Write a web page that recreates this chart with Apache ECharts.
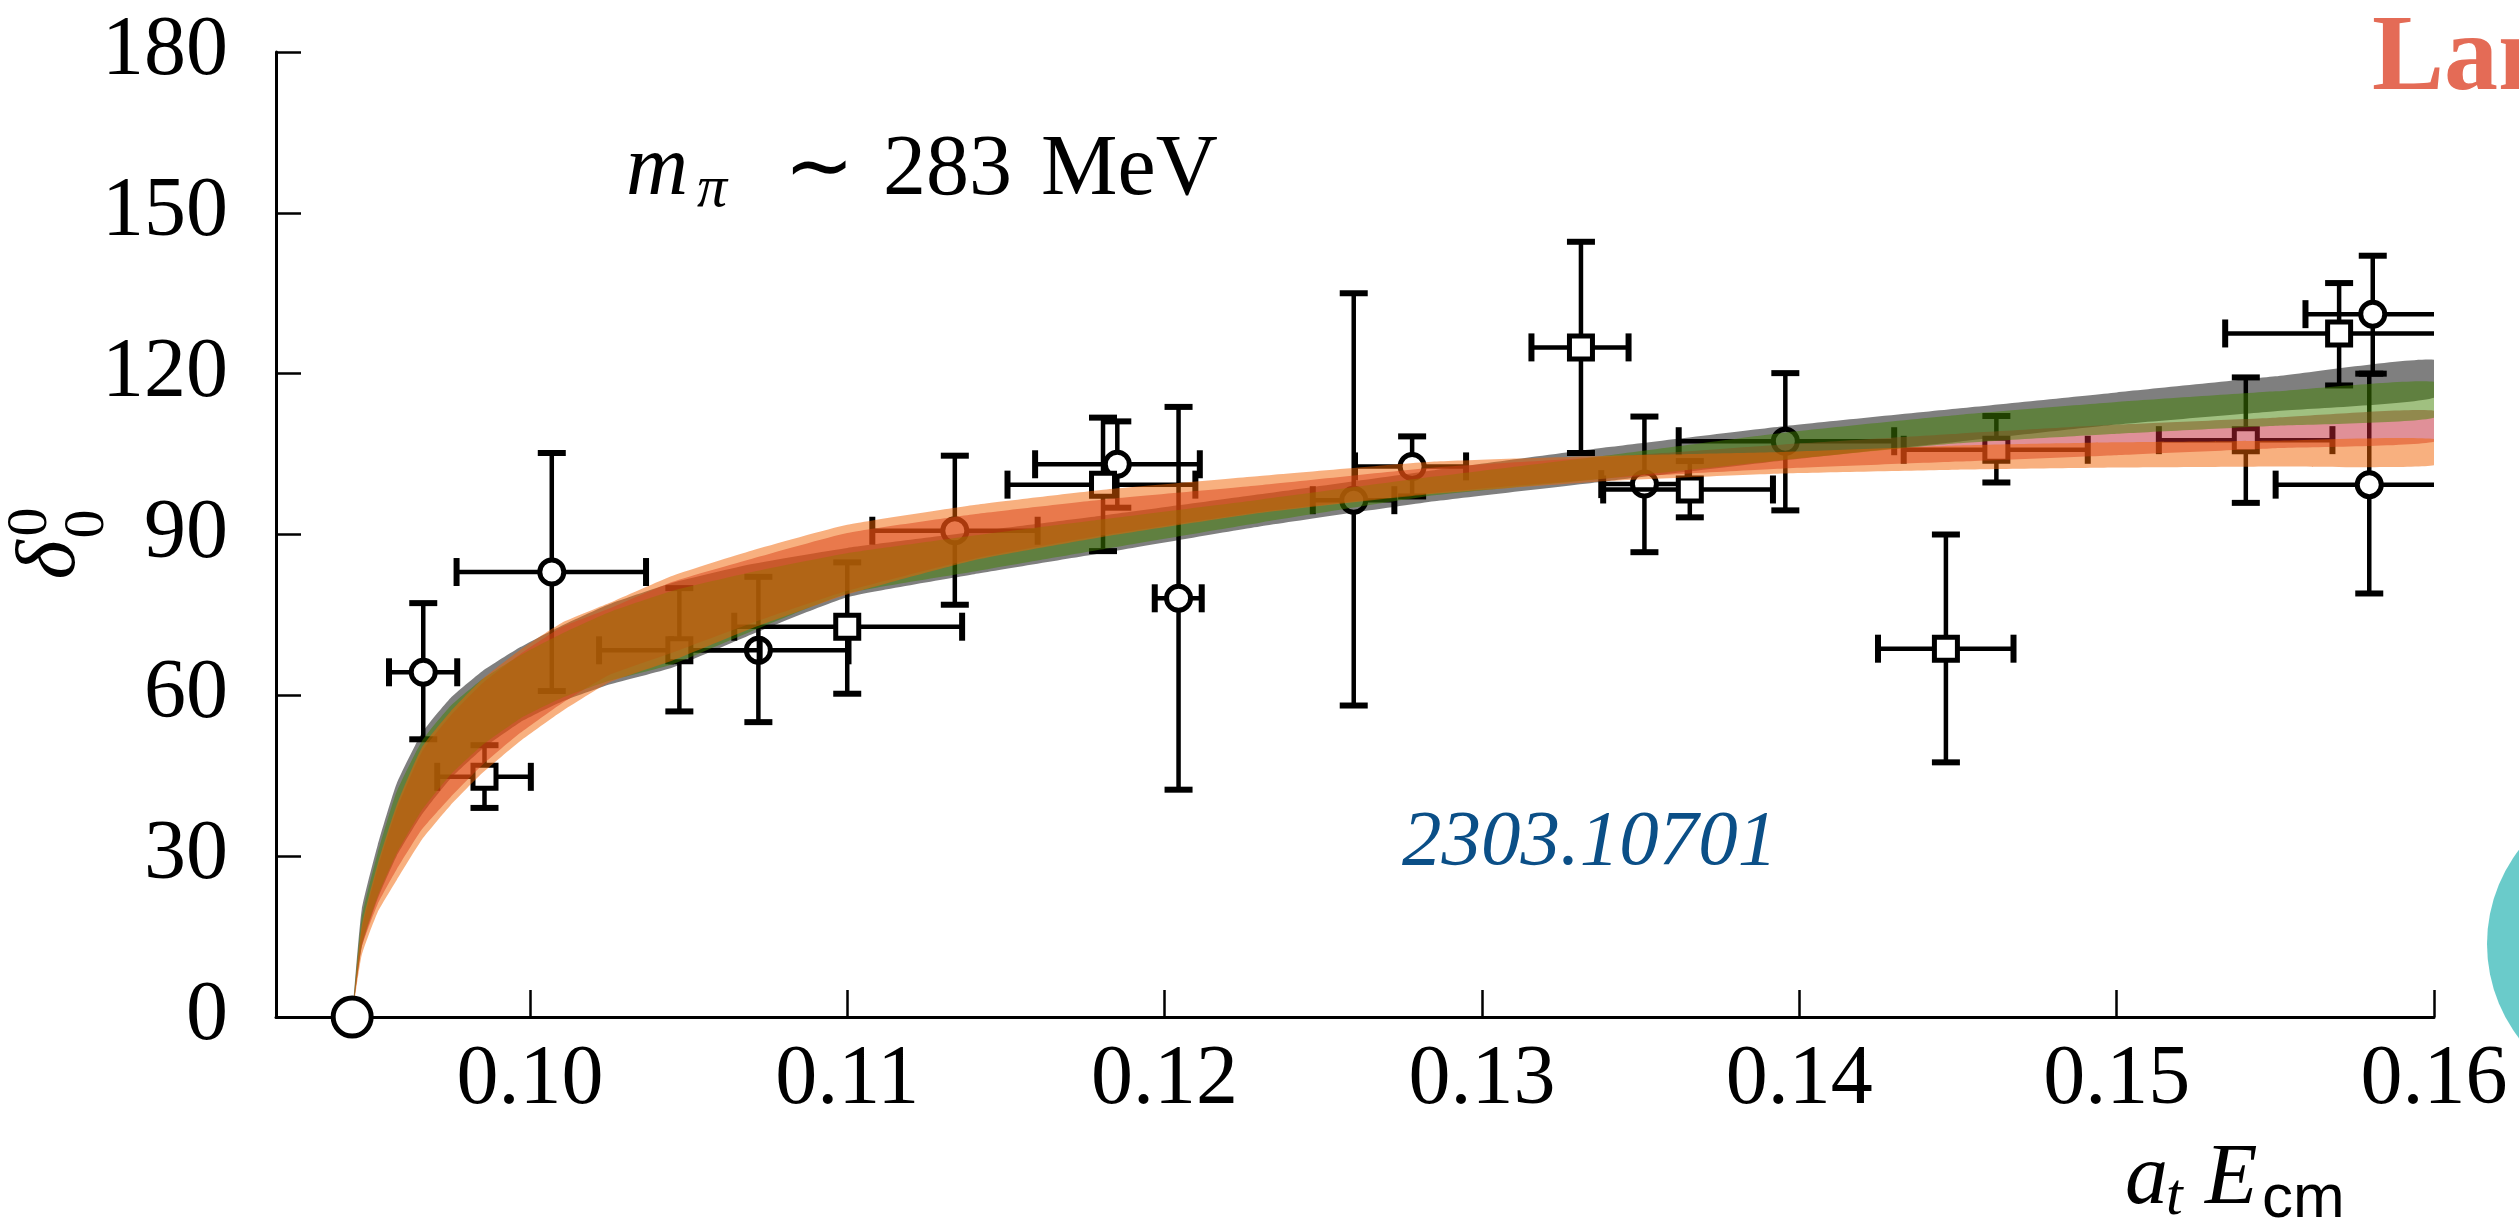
<!DOCTYPE html>
<html>
<head>
<meta charset="utf-8">
<script src="https://cdn.jsdelivr.net/npm/echarts@6/dist/echarts.min.js"></script>
<style>
html, body { margin: 0; padding: 0; background: #fff; }
#main { width: 2519px; height: 1231px; }
</style>
</head>
<body>
<div id="main"></div>
<script>
// 坐标轴刻度
var xTicks = [0.10, 0.11, 0.12, 0.13, 0.14, 0.15, 0.16];

// 拟合带 (lower / upper)
var bandX    = [0.0944, 0.0947, 0.0952, 0.0958, 0.0966, 0.0975, 0.0985, 0.0997, 0.1010, 0.1025, 0.1045, 0.1070, 0.1100, 0.1140, 0.1180, 0.1230, 0.1285, 0.1340, 0.1395, 0.1450, 0.1500, 0.1550, 0.1600];
var grayHi   = [0, 20, 32, 43.5, 53, 59.5, 64.5, 69, 73, 77, 81, 84.5, 87.5, 90.5, 93.5, 97.5, 102, 106.3, 110.2, 113.5, 116.5, 119.5, 122.6];
var grayLo   = [0, 13, 22, 30, 37.8, 44.5, 50, 55, 58.8, 62, 65.2, 71.4, 78.3, 82.6, 86.5, 91.5, 96.2, 100, 103.8, 107.3, 110.5, 113, 115.5];
var pinkHi   = [0, 16.2, 27.7, 38.7, 49.5, 56.2, 62.2, 67.7, 72.7, 76.2, 81.2, 85.5, 90.3, 93.8, 96.5, 99.2, 102.5, 104.5, 106.8, 108.8, 110.5, 111.8, 113.1];
var pinkLo   = [0, 13, 21, 27.5, 35, 41, 47, 53, 58.5, 63.8, 68, 73.5, 79.5, 85.5, 89.8, 94.2, 97.8, 100.5, 102.3, 103.6, 104.8, 106.1, 107.3];
var greenHi  = [0, 18.5, 30.5, 42, 51.5, 58, 63, 67.5, 71.5, 75.5, 79.5, 83, 86.5, 89.8, 92.8, 96.5, 100.8, 104.8, 109, 112.3, 114.7, 116.7, 118.5];
var greenLo  = [0, 13.5, 22.5, 30.5, 38.6, 45.2, 50.7, 55.7, 59.5, 62.7, 65.8, 72, 79, 83.1, 87.2, 92.2, 97.3, 100.5, 103.9, 107, 108.8, 110.3, 111.8];
var orangeHi = [0, 17, 28.5, 39.5, 50.3, 57, 63, 68.5, 73.5, 77.2, 82.3, 87, 91.8, 95.5, 98.3, 100.9, 103.6, 104.7, 105.4, 106.6, 107.2, 107.5, 107.8];
var orangeLo = [0, 11.5, 19.5, 25.5, 33.1, 39.5, 45.5, 51.5, 57, 62.4, 66.5, 72.5, 78.8, 85.2, 89.5, 94, 97.6, 100, 101.4, 102.1, 102.5, 102.7, 102.9];

// 圆点数据
var circX   = [0.09664, 0.10069, 0.10720, 0.11339, 0.11851, 0.12044, 0.12596, 0.12780, 0.13512, 0.13956, 0.15807, 0.15796];
var circY   = [64.3, 83.0, 68.4, 90.7, 103.1, 78.1, 96.4, 102.7, 99.4, 107.4, 131.1, 99.3];
var circXlo = [0.09556, 0.09769, 0.10445, 0.11079, 0.11592, 0.11969, 0.12467, 0.12600, 0.13376, 0.13620, 0.15595, 0.15501];
var circXhi = [0.09771, 0.10366, 0.11004, 0.11600, 0.12111, 0.12117, 0.12724, 0.12950, 0.13648, 0.14299, 0.16020, 0.16090];
var circYlo = [51.8, 60.8, 55.0, 76.9, 95.0, 42.4, 58.1, 97.1, 86.7, 94.5, 120.0, 79.0];
var circYhi = [77.2, 105.2, 82.1, 104.7, 111.1, 113.8, 135.0, 108.3, 112.0, 120.1, 142.0, 120.0];

// 方块数据
var sqX   = [0.09857, 0.10471, 0.11000, 0.11806, 0.13312, 0.13655, 0.14462, 0.14621, 0.15407, 0.15701];
var sqY   = [44.8, 68.4, 72.8, 99.3, 124.9, 98.4, 68.7, 105.8, 107.6, 127.5];
var sqXlo = [0.09708, 0.10218, 0.10644, 0.11505, 0.13156, 0.13382, 0.14248, 0.14329, 0.15133, 0.15342];
var sqXhi = [0.10003, 0.10724, 0.11362, 0.12097, 0.13462, 0.13917, 0.14675, 0.14909, 0.15680, 0.16060];
var sqYlo = [39.0, 57.0, 60.3, 86.9, 105.2, 93.2, 47.5, 99.7, 95.9, 117.8];
var sqYhi = [50.7, 80.0, 84.8, 111.8, 144.6, 103.7, 90.0, 112.1, 119.3, 136.9];

// 阈值点
var thrX = [0.0944];
var thrY = [0];

var myChart = echarts.init(document.getElementById('main'));
var serif = 'Liberation Serif';

function bandSeries(name, lo, hi, color) {
    return {
        name: name,
        type: 'custom',
        clip: true,
        z: 3,
        silent: true,
        data: bandX.map(function (x, i) { return [x, lo[i], hi[i]]; }),
        renderItem: function (params, api) {
            if (params.dataIndex !== 0) return;
            var pts = [];
            for (var i = 0; i < bandX.length; i++) pts.push(api.coord([bandX[i], hi[i]]));
            for (var j = bandX.length - 1; j >= 0; j--) pts.push(api.coord([bandX[j], lo[j]]));
            return {
                type: 'polygon',
                shape: { points: pts, smooth: 0.15 },
                style: { fill: color }
            };
        }
    };
}

function pointSeries(name, xs, ys, xlo, xhi, ylo, yhi, marker) {
    return {
        name: name,
        type: 'custom',
        clip: true,
        z: 2,
        data: xs.map(function (x, i) { return [x, ys[i], xlo[i], xhi[i], ylo[i], yhi[i]]; }),
        renderItem: function (params, api) {
            var c = api.coord([api.value(0), api.value(1)]);
            var l = api.coord([api.value(2), api.value(1)]);
            var r = api.coord([api.value(3), api.value(1)]);
            var b = api.coord([api.value(0), api.value(4)]);
            var t = api.coord([api.value(0), api.value(5)]);
            var cap = 14;
            var ls = { stroke: '#000', lineWidth: 4.5 };
            var cs = { stroke: '#000', lineWidth: 6 };
            var kids = [
                { type: 'line', shape: { x1: l[0], y1: c[1], x2: r[0], y2: c[1] }, style: ls },
                { type: 'line', shape: { x1: c[0], y1: b[1], x2: c[0], y2: t[1] }, style: ls },
                { type: 'line', shape: { x1: l[0], y1: c[1] - cap, x2: l[0], y2: c[1] + cap }, style: cs },
                { type: 'line', shape: { x1: r[0], y1: c[1] - cap, x2: r[0], y2: c[1] + cap }, style: cs },
                { type: 'line', shape: { x1: c[0] - cap, y1: b[1], x2: c[0] + cap, y2: b[1] }, style: cs },
                { type: 'line', shape: { x1: c[0] - cap, y1: t[1], x2: c[0] + cap, y2: t[1] }, style: cs }
            ];
            if (marker === 'circle') {
                kids.push({ type: 'circle', shape: { cx: c[0], cy: c[1], r: 12 },
                    style: { fill: '#fff', stroke: '#000', lineWidth: 5 } });
            } else {
                kids.push({ type: 'rect', shape: { x: c[0] - 11.5, y: c[1] - 11.5, width: 23, height: 23 },
                    style: { fill: '#fff', stroke: '#000', lineWidth: 5 } });
            }
            return { type: 'group', children: kids };
        }
    };
}

function txt(x, y, s, size, opts) {
    opts = opts || {};
    return {
        type: 'text',
        x: x, y: y,
        rotation: opts.rotation || 0,
        z: 10,
        style: {
            text: s, x: 0, y: 0,
            fontFamily: opts.family || serif,
            fontSize: size,
            fontStyle: opts.italic ? 'italic' : 'normal',
            fontWeight: opts.bold ? 'bold' : 'normal',
            fill: opts.color || '#000',
            align: opts.align || 'left', textAlign: opts.align || 'left',
            verticalAlign: 'middle', textVerticalAlign: 'middle'
        }
    };
}

var option = {
    backgroundColor: '#fff',
    animation: false,
    grid: { left: 276, right: 85, top: 52, bottom: 214, containLabel: false },
    xAxis: {
        type: 'value',
        min: 0.092,
        max: 0.16,
        axisLine: { onZero: false, lineStyle: { color: '#000', width: 3 } },
        axisTick: { inside: true, length: 27, customValues: xTicks, lineStyle: { color: '#000', width: 2.5 } },
        axisLabel: {
            customValues: xTicks,
            formatter: function (v) { return v.toFixed(2); },
            margin: 22, fontFamily: serif, fontSize: 84, color: '#000'
        },
        splitLine: { show: false }
    },
    yAxis: {
        type: 'value',
        min: 0,
        max: 180,
        interval: 30,
        axisLine: { show: true, lineStyle: { color: '#000', width: 3 } },
        axisTick: { show: true, inside: true, length: 25, lineStyle: { color: '#000', width: 2.5 } },
        axisLabel: { margin: 48, fontFamily: serif, fontSize: 84, color: '#000' },
        splitLine: { show: false }
    },
    graphic: [
        { type: 'circle', shape: { cx: 2642, cy: 944, r: 155 }, style: { fill: '#6acbca' }, z: 1 },
        txt(626, 171.6, 'm', 86, { italic: true }),
        txt(697, 190, 'π', 60, { italic: true }),
        txt(819, 171.6, '∼', 84, { align: 'center' }),
        txt(883, 171.6, '283', 86),
        txt(1041, 171.6, 'MeV', 86),
        txt(52, 560, 'δ', 84, { italic: true, rotation: Math.PI / 2, align: 'center' }),
        txt(31, 522, '0', 58, { rotation: Math.PI / 2, align: 'center' }),
        txt(88, 524, '0', 58, { rotation: Math.PI / 2, align: 'center' }),
        txt(2125, 1180.6, 'a', 86, { italic: true }),
        txt(2166, 1198.7, 't', 60, { italic: true }),
        txt(2205, 1180.6, 'E', 86, { italic: true }),
        txt(2262, 1199.7, 'cm', 62, { family: 'Liberation Sans' }),
        txt(1402, 843.3, '2303.10701', 79, { italic: true, color: '#0b4f87' }),
        txt(2372, 61, 'Lan', 108, { bold: true, color: '#e46b56' })
    ],
    series: [
        pointSeries('circles', circX, circY, circXlo, circXhi, circYlo, circYhi, 'circle'),
        pointSeries('squares', sqX, sqY, sqXlo, sqXhi, sqYlo, sqYhi, 'square'),
        bandSeries('gray', grayLo, grayHi, 'rgba(0,0,0,0.5)'),
        bandSeries('pink', pinkLo, pinkHi, 'rgba(193,33,49,0.5)'),
        bandSeries('green', greenLo, greenHi, 'rgba(65,129,1,0.5)'),
        bandSeries('orange', orangeLo, orangeHi, 'rgba(241,97,0,0.5)'),
        {
            name: 'threshold',
            type: 'scatter',
            z: 5,
            clip: false,
            symbol: 'circle',
            symbolSize: 38,
            itemStyle: { color: '#fff', borderColor: '#000', borderWidth: 5, opacity: 1 },
            data: thrX.map(function (x, i) { return [x, thrY[i]]; })
        }
    ]
};

myChart.setOption(option);
</script>
</body>
</html>
